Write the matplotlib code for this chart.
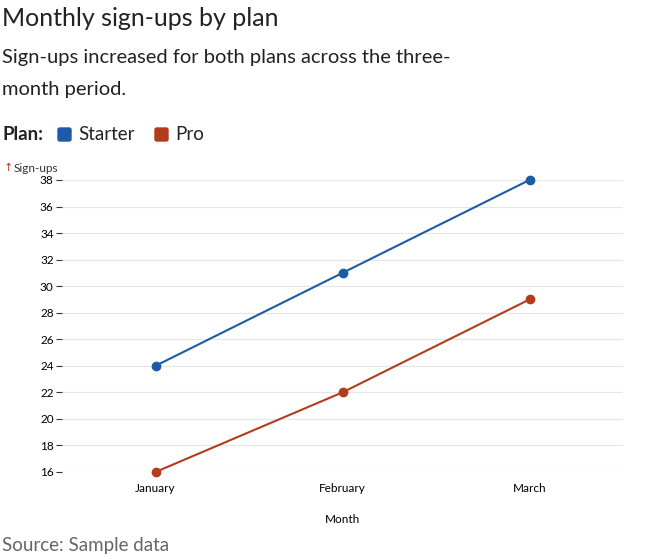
import matplotlib
matplotlib.use("Agg")
import matplotlib.pyplot as plt
from matplotlib.patches import FancyBboxPatch

months = ["January", "February", "March"]
starter = [24, 31, 38]
pro = [16, 22, 29]
series = [("Starter", starter, "#1c5ba6"), ("Pro", pro, "#b23c1c")]
yticks = list(range(16, 40, 2))

plt.rcParams["font.family"] = ["Lato", "DejaVu Sans"]
W, H = 646, 559
fig = plt.figure(figsize=(W / 100, H / 100), dpi=100)

def fx(px): return px / W
def fy(py): return 1 - py / H

ax = fig.add_axes([fx(62), fy(472), fx(623) - fx(62), fy(180) - fy(472)])
x = range(len(months))
for name, vals, col in series:
    ax.plot(x, vals, color=col, lw=1.5, marker="o", ms=6, zorder=3, clip_on=False)
ax.set_xlim(-0.5, 2.5)
ax.set_ylim(16, 38)
ax.set_yticks(yticks)
ax.set_xticks(list(x))
ax.set_xticklabels(months)
ax.grid(axis="y", color="#e6e6e6", lw=0.8)
ax.set_axisbelow(True)
for s in ax.spines.values():
    s.set_visible(False)
ax.tick_params(axis="y", length=4, color="#333", labelsize=8.5, pad=2)
ax.tick_params(axis="x", length=0, labelsize=8.5, pad=8)
ax.set_xlabel("Month", fontsize=8.5, labelpad=14)

fig.text(fx(2), fy(18), "Monthly sign-ups by plan", fontsize=18, va="center", color="#222")
fig.text(fx(2), fy(58), "Sign-ups increased for both plans across the three-", fontsize=14.5, va="center", color="#222")
fig.text(fx(2), fy(89), "month period.", fontsize=14.5, va="center", color="#222")
fig.text(fx(2), fy(134), "Plan:", fontsize=13.5, va="center", weight="bold", color="#222")
for (name, vals, col), px in zip(series, [58, 155]):
    fig.patches.append(FancyBboxPatch((fx(px), fy(141)), fx(13), fy(128) - fy(141),
                                      boxstyle="round,pad=0,rounding_size=0.003",
                                      transform=fig.transFigure, color=col))
    fig.text(fx(px + 20), fy(134), name, fontsize=13.5, va="center", color="#222")
fig.text(fx(4), fy(168), "\u2191", fontsize=8, va="center", color="#b23c1c", family=["DejaVu Sans"])
fig.text(fx(14), fy(168), "Sign-ups", fontsize=8.5, va="center", color="#333")
fig.text(fx(2), fy(545), "Source: Sample data", fontsize=13.5, va="center", color="#666")

fig.savefig("out.png", dpi=100)
